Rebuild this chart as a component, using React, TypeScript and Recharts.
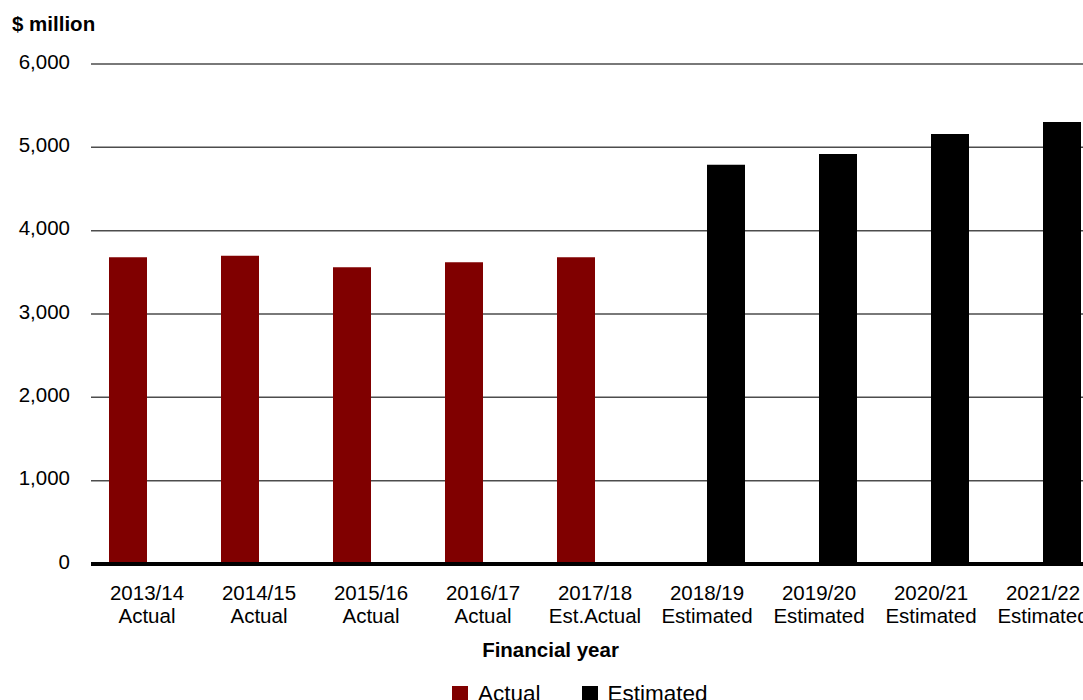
import React from 'react';
import { BarChart, Bar, XAxis, YAxis, CartesianGrid, Legend } from 'recharts';

const years = ['2013/14', '2014/15', '2015/16', '2016/17', '2017/18', '2018/19', '2019/20', '2020/21', '2021/22'];
const status = ['Actual', 'Actual', 'Actual', 'Actual', 'Est.Actual', 'Estimated', 'Estimated', 'Estimated', 'Estimated'];
const actual = [3680, 3700, 3560, 3620, 3680, null, null, null, null];
const estimated = [null, null, null, null, null, 4790, 4920, 5160, 5305];
const yTicks = [0, 1000, 2000, 3000, 4000, 5000, 6000];

const FONT = '"Liberation Sans", Arial, Helvetica, sans-serif';
const MAROON = '#800000';

const data = years.map((year, i) => ({
  year,
  status: status[i],
  Actual: actual[i],
  Estimated: estimated[i],
}));

const YTick = (props: any) => {
  const { x, y, payload } = props;
  return (
    <text x={x} y={y} dy={4.5} textAnchor="end" fontFamily={FONT} fontSize={20.5} fill="#000">
      {Number(payload.value).toLocaleString('en-US')}
    </text>
  );
};

const XTick = (props: any) => {
  const { x, y, payload, index } = props;
  return (
    <text x={x} y={y} textAnchor="middle" fontFamily={FONT} fontSize={20.5} fill="#000">
      <tspan x={x} dy={36}>{payload.value}</tspan>
      <tspan x={x} dy={23}>{data[index] ? data[index].status : ''}</tspan>
    </text>
  );
};

const LegendContent = () => (
  <div style={{ display: 'flex', fontFamily: FONT, fontSize: 22.5, lineHeight: '22px', color: '#000' }}>
    {[
      { name: 'Actual', color: MAROON },
      { name: 'Estimated', color: '#000' },
    ].map((item, i) => (
      <div key={item.name} style={{ display: 'flex', alignItems: 'flex-start', marginRight: i === 0 ? 41 : 0 }}>
        <span style={{ display: 'inline-block', width: 16, height: 16, background: item.color, marginTop: 3, marginRight: 10 }} />
        <span>{item.name}</span>
      </div>
    ))}
  </div>
);

export default function App() {
  return (
    <div style={{ position: 'fixed', left: 0, top: 0, width: 1083, height: 700, overflow: 'hidden', background: '#fff' }}>
      <BarChart
        width={1118}
        height={700}
        data={data}
        margin={{ top: 64, right: 19, left: 0, bottom: 76 }}
        barCategoryGap={18}
        barGap={0}
        barSize={38}
      >
        <CartesianGrid vertical={false} stroke="#4d4d4d" strokeWidth={1.5} />
        <YAxis
          width={91}
          domain={[0, 6000]}
          ticks={yTicks}
          interval={0}
          axisLine={false}
          tickLine={false}
          tickSize={0}
          tickMargin={21}
          tick={<YTick />}
          label={{
            content: () => (
              <text x={12} y={31} fontFamily={FONT} fontSize={20.5} fontWeight="bold" fill="#000">
                $ million
              </text>
            ),
          }}
        />
        <XAxis
          dataKey="year"
          height={60}
          interval={0}
          axisLine={{ stroke: '#000', strokeWidth: 4 }}
          tickLine={false}
          tickSize={0}
          tickMargin={0}
          tick={<XTick />}
          label={{
            content: () => (
              <text x={550.5} y={657} textAnchor="middle" fontFamily={FONT} fontSize={20.5} fontWeight="bold" fill="#000">
                Financial year
              </text>
            ),
          }}
        />
        <Legend
          layout="horizontal"
          align="center"
          verticalAlign="middle"
          wrapperStyle={{ left: 452, top: 683, width: 320, height: 24 }}
          content={<LegendContent />}
        />
        <Bar dataKey="Actual" fill={MAROON} isAnimationActive={false} />
        <Bar dataKey="Estimated" fill="#000" isAnimationActive={false} />
      </BarChart>
    </div>
  );
}
